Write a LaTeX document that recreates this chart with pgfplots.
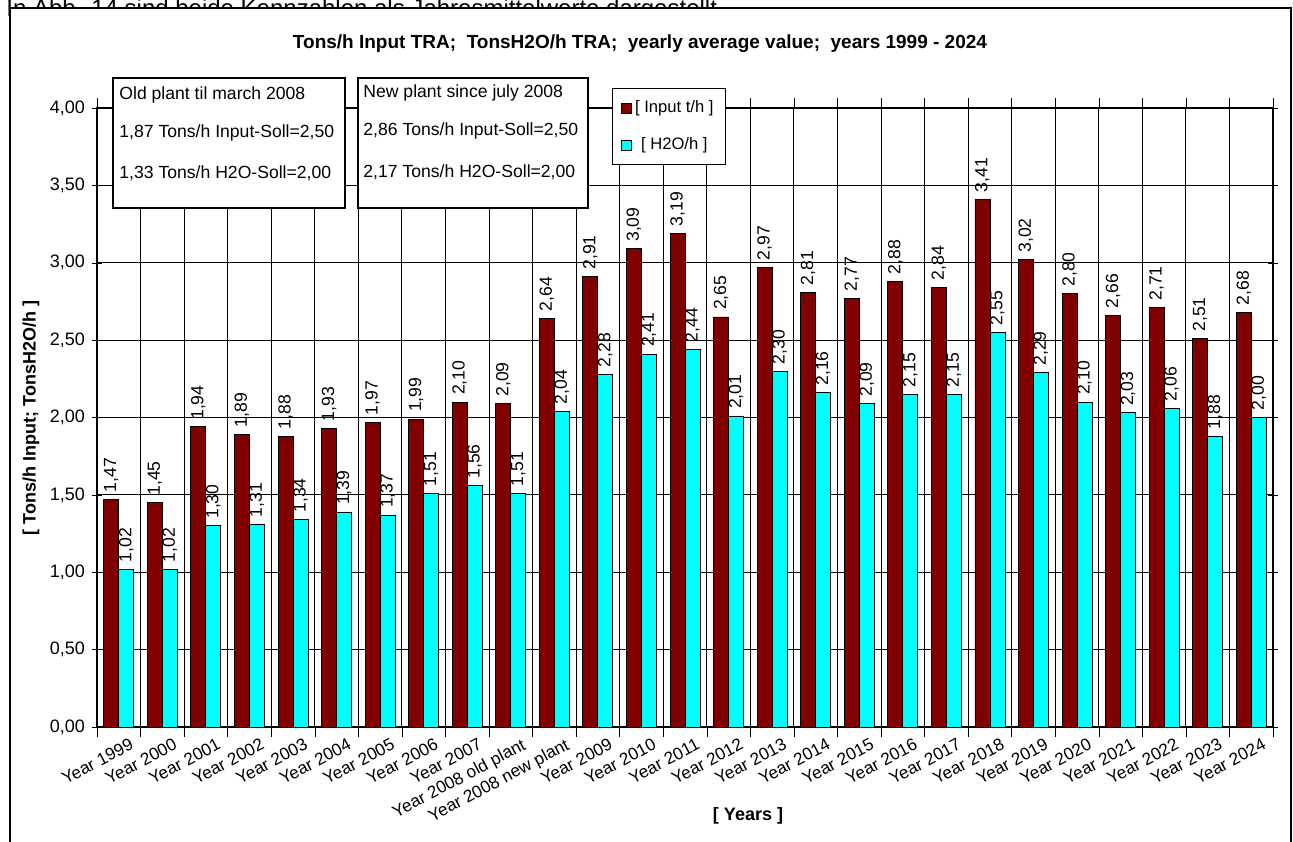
\documentclass[border=0pt]{standalone}
\usepackage{pgfplots}
\pgfplotsset{compat=1.18}
\usepackage{fontspec}
\setmainfont{Liberation Sans}
\definecolor{dred}{RGB}{128,0,0}
\definecolor{cy}{RGB}{0,255,255}
\newcommand{\PP}[2]{({#1*0.5pt},{(841-#2)*0.5pt})}
\begin{document}
\begin{tikzpicture}[x=1pt,y=1pt]
\clip (0,0) rectangle (646.5pt,420.5pt);
\fill[white] (0,0) rectangle (646.5pt,420.5pt);
\node[anchor=base west,font=\fontsize{12}{13}\selectfont,inner sep=0] at \PP{6}{17} {In Abb. 14 sind beide Kennzahlen als Jahresmittelwerte dargestellt.};
\draw[line width=1.2pt,fill=white] \PP{10}{8} rectangle \PP{1291}{845};
\begin{axis}[
  at={(48.5pt,57pt)}, anchor=south west,
  scale only axis, width=588pt, height=309.5pt,
  xmin=-0.5, xmax=26.5, ymin=0, ymax=4,
  ybar, bar width=7.5pt,
  ytick={0,0.5,...,4}, ymajorgrids, grid style={black,line width=0.5pt},
  yticklabel style={font=\fontsize{9}{10}\selectfont,/pgf/number format/.cd,use comma,fixed,zerofill,precision=2},
  /pgf/number format/assume math mode=true,
  xtick={0,...,26}, major x tick style={draw=none},
  minor xtick={-0.5,0.5,...,26.5}, xminorgrids, minor x tick style={black},
  minor tick length=5pt, major tick length=5pt,
  ytick style={black}, ytick align=center,
  xticklabels={Year 1999,Year 2000,Year 2001,Year 2002,Year 2003,Year 2004,Year 2005,Year 2006,Year 2007,Year 2008 old plant,Year 2008 new plant,Year 2009,Year 2010,Year 2011,Year 2012,Year 2013,Year 2014,Year 2015,Year 2016,Year 2017,Year 2018,Year 2019,Year 2020,Year 2021,Year 2022,Year 2023,Year 2024},
  xticklabel style={rotate=28,anchor=north east,inner sep=0.5pt,yshift=-2pt,xshift=5pt,font=\fontsize{8.6}{10}\selectfont},
  axis line style={black,line width=0.6pt},
  nodes near coords, every node near coord/.append style={rotate=90,anchor=west,font=\fontsize{8.8}{10}\selectfont,black},
  nodes near coords style={/pgf/number format/.cd,use comma,fixed,zerofill,precision=2},
  legend style={at={(0.438,1.032)},anchor=north west,draw=black,font=\fontsize{8.3}{10}\selectfont,row sep=7pt,inner sep=4pt},
  legend image code/.code={\draw[#1,draw=black,line width=0.3pt] (0pt,-2.5pt) rectangle (5pt,2.5pt);},
  clip=false,
]
\addplot[fill=dred,draw=black,line width=0.4pt,bar shift=-3.75pt] coordinates {
(0,1.47)(1,1.45)(2,1.94)(3,1.89)(4,1.88)(5,1.93)(6,1.97)(7,1.99)(8,2.10)(9,2.09)(10,2.64)(11,2.91)(12,3.09)(13,3.19)(14,2.65)(15,2.97)(16,2.81)(17,2.77)(18,2.88)(19,2.84)(20,3.41)(21,3.02)(22,2.80)(23,2.66)(24,2.71)(25,2.51)(26,2.68)};
\addlegendentry{\relax[ Input t/h ]}
\addplot[fill=cy,draw=black,line width=0.4pt,bar shift=3.75pt] coordinates {
(0,1.02)(1,1.02)(2,1.30)(3,1.31)(4,1.34)(5,1.39)(6,1.37)(7,1.51)(8,1.56)(9,1.51)(10,2.04)(11,2.28)(12,2.41)(13,2.44)(14,2.01)(15,2.30)(16,2.16)(17,2.09)(18,2.15)(19,2.15)(20,2.55)(21,2.29)(22,2.10)(23,2.03)(24,2.06)(25,1.88)(26,2.00)};
\addlegendentry{\relax[ H2O/h ]}
\end{axis}
\node[font=\bfseries\fontsize{9.5}{11}\selectfont] at \PP{640}{44} {Tons/h Input TRA;\ \ TonsH2O/h TRA;\ \ yearly average value;\ \ years 1999 - 2024};
\node[font=\bfseries\fontsize{9}{10}\selectfont,rotate=90] at \PP{31}{418} {[ Tons/h Input; TonsH2O/h ]};
\node[font=\bfseries\fontsize{9}{10}\selectfont] at \PP{748}{816} {[ Years ]};
\draw[line width=0.8pt,fill=white] \PP{113}{78} rectangle \PP{345}{208};
\draw[line width=0.8pt,fill=white] \PP{358}{78} rectangle \PP{588}{208};
\begin{scope}[every node/.style={anchor=west,font=\fontsize{8.8}{10}\selectfont,inner sep=0}]
\node at \PP{119}{95} {Old plant til march 2008};
\node at \PP{119}{133} {1,87 Tons/h Input-Soll=2,50};
\node at \PP{119}{173} {1,33 Tons/h H2O-Soll=2,00};
\node at \PP{363}{93} {New plant since july 2008};
\node at \PP{363}{131} {2,86 Tons/h Input-Soll=2,50};
\node at \PP{363}{172} {2,17 Tons/h H2O-Soll=2,00};
\end{scope}
\end{tikzpicture}
\end{document}
